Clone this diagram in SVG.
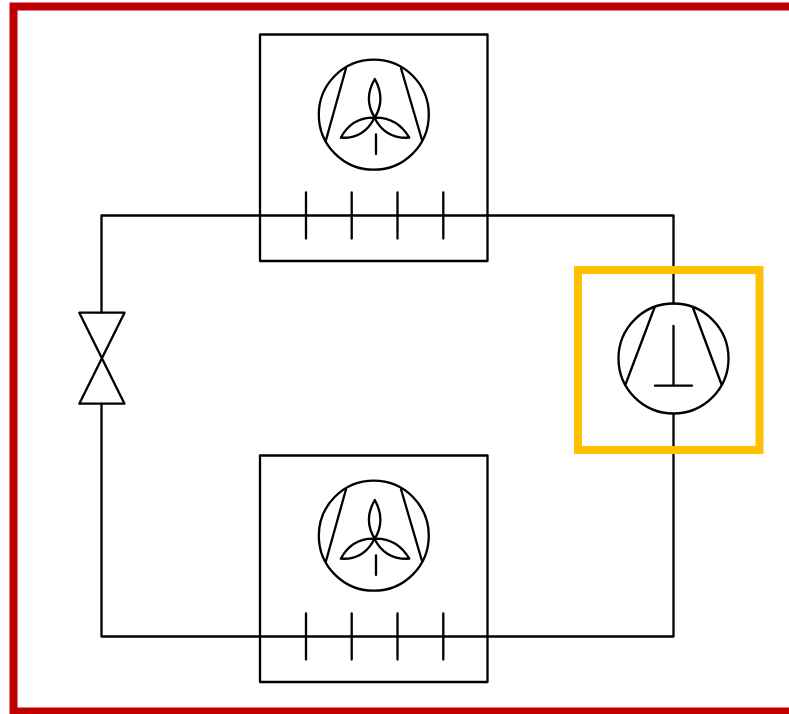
<svg xmlns="http://www.w3.org/2000/svg" width="789" height="714" viewBox="0 0 789 714">
<style>
.l{fill:none;stroke:#000;stroke-width:2.3;stroke-linecap:round;stroke-linejoin:round}
</style>
<defs>
<g id="fan">
<rect class="l" x="260" y="34.5" width="227.5" height="226.5"/>
<circle class="l" cx="373.8" cy="114.7" r="55"/>
<path class="l" d="M346 68.3L326 140M401 68.3L422 140"/>
<path class="l" d="M374.8 79Q363 99 374.8 117.7Q386 99 374.8 79Z"/>
<path class="l" d="M374.5 117.7Q352 117 340.8 137.7Q364 139 374.5 117.7Z"/>
<path class="l" d="M374.5 117.7Q397 117 409.3 137.7Q385 139 374.5 117.7Z"/>
<path class="l" d="M376 134.5V154"/>
<path class="l" d="M306 192.5V238.5M351.7 192.5V238.5M397.5 192.5V238.5M443.3 192.5V238.5"/>
</g>
</defs>
<g id="connectors">
<path class="l" d="M101.5 312.5V215.5H673.5V303.5"/>
<path class="l" d="M101.5 404V636.5H673.5V414"/>
</g>
<g id="condenser"><use href="#fan"/></g>
<g id="evaporator"><use href="#fan" y="421"/></g>
<g id="valve">
<path class="l" d="M79.3 312.7H124.5L79.3 403.7H124.5Z"/>
</g>
<g id="compressor">
<circle class="l" cx="673.5" cy="358.5" r="55"/>
<path class="l" d="M654.7 307L625.3 385M692.7 307L721.7 385"/>
<path class="l" d="M673.5 326V385.7M655 385.7H692"/>
</g>
<g id="highlight">
<rect x="578" y="270" width="181.5" height="180" fill="none" stroke="#ffc000" stroke-width="8"/>
</g>
<g id="frame">
<rect x="13.5" y="6.5" width="800" height="705" fill="none" stroke="#c00000" stroke-width="8"/>
</g>
</svg>
